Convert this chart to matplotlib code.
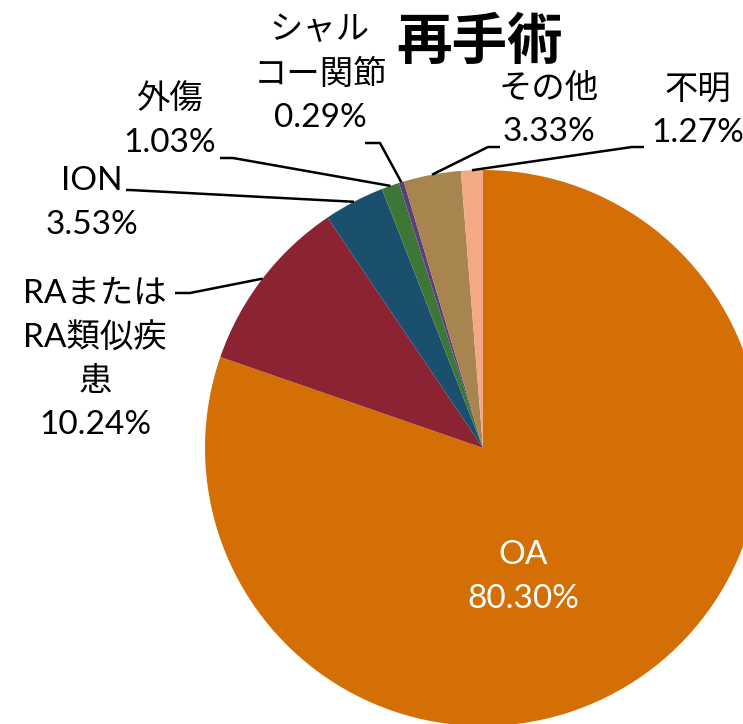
import numpy as np
import matplotlib
matplotlib.use("Agg")
import matplotlib.pyplot as plt

plt.rcParams['font.family'] = ['Lato', 'Noto Sans CJK JP', 'DejaVu Sans']

# data
labels = ["OA", "RAまたは\nRA類似疾\n患", "ION", "外傷", "シャル\nコー関節", "その他", "不明"]
values = [80.30, 10.24, 3.53, 1.03, 0.29, 3.33, 1.27]
colors = ["#D46F06", "#8B2332", "#1B4F6E", "#3E7638", "#5A3F7A", "#A8844F", "#F2A984"]

W, H = 743, 724
cx, cy, R = 483, 448, 278   # pie centre / radius in pixels

fig = plt.figure(figsize=(W / 100, H / 100), dpi=100)
ax = fig.add_axes([(cx - R) / W, (H - cy - R) / H, 2 * R / W, 2 * R / H])
wedges, _ = ax.pie(values, colors=colors, startangle=90, counterclock=False,
                   radius=1, wedgeprops=dict(linewidth=0))
ax.set_xlim(-1, 1)
ax.set_ylim(-1, 1)
ax.set_aspect('equal')
ax.axis('off')
for w in wedges:
    w.set_clip_on(False)

def d(px, py):
    # pixel position -> data coords
    return (px - cx) / R, (cy - py) / R

fs = 24
# label layout: (text centre px, bend px, line end px)
layout = [
    ((523, 577), None, None),
    ((95, 359), (190, 293), (175, 293)),
    ((92, 203), (130, 190), (126, 190)),
    ((170, 121), (233, 158), (220, 158)),
    ((320, 74), (380, 143), (365, 143)),
    ((549, 110), (488, 147), (500, 147)),
    ((698, 111), (632, 147), (644, 147)),
]

for i, (w, lab, v) in enumerate(zip(wedges, labels, values)):
    tpos, bend, end = layout[i]
    txt = lab + "\n" + f"{v:.2f}%"
    color = "white" if i == 0 else "black"
    tx, ty = d(*tpos)
    ax.text(tx, ty, txt, ha='center', va='center', multialignment='center',
            fontsize=fs, color=color, linespacing=1.55)
    if bend is not None:
        ang = np.deg2rad((w.theta1 + w.theta2) / 2)
        ax0, ay0 = np.cos(ang), np.sin(ang)
        bx, by = d(*bend)
        ex, ey = d(*end)
        ax.plot([ax0, bx, ex], [ay0, by, ey], color="black", lw=1.8,
                clip_on=False, solid_capstyle='butt')

fig.text(480 / W, 1 - 42 / H, "再手術", ha='center', va='center',
         fontsize=40, fontweight='bold')

fig.savefig("out.png", dpi=100)
